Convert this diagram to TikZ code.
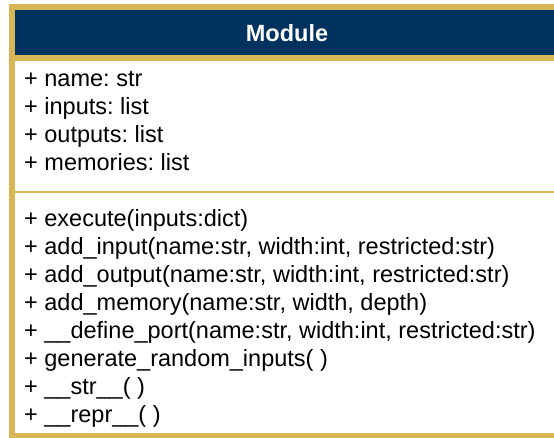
\documentclass[tikz,border=0pt]{standalone}
\usepackage{fontspec}
\setmainfont[Ligatures=NoCommon]{Liberation Sans}
\frenchspacing
\definecolor{navy}{HTML}{003260}
\definecolor{gold}{HTML}{D8B655}
\begin{document}
\begin{tikzpicture}[x=1pt,y=-1pt,
  member/.style={anchor=base west, inner sep=0pt, font=\fontsize{23.5}{23.5}\selectfont\frenchspacing, text=black},
  title/.style={inner sep=0pt, font=\fontsize{23.5}{23.5}\selectfont\bfseries, text=white}]
\useasboundingbox (0,0) rectangle (554,437);
\clip (0,0) rectangle (554,437);
% class frame and header
\fill[white] (12,7) rectangle (562,436);
\fill[navy] (12,7) rectangle (562,58);
\draw[gold, line width=6pt] (12,58) -- (562,58);
\draw[gold, line width=2pt] (15,192) -- (562,192);
\draw[gold, line width=6pt] (12,7) rectangle (562,436);
\node[title] (cls) at (287,33) {Module};
% attributes
\node[member] (a1) at (24,86) {+ name: str};
\node[member] (a2) at (24,114) {+ inputs: list};
\node[member] (a3) at (24,142) {+ outputs: list};
\node[member] (a4) at (24,170) {+ memories: list};
% operations
\node[member] (m1) at (24,226) {+ execute(inputs:dict)};
\node[member] (m2) at (24,254) {+ add\_input(name:str, width:int, restricted:str)};
\node[member] (m3) at (24,282) {+ add\_output(name:str, width:int, restricted:str)};
\node[member] (m4) at (24,310) {+ add\_memory(name:str, width, depth)};
\node[member] (m5) at (24,338) {+ \_\_define\_port(name:str, width:int, restricted:str)};
\node[member] (m6) at (24,366) {+ generate\_random\_inputs( )};
\node[member] (m7) at (24,394) {+ \_\_str\_\_( )};
\node[member] (m8) at (24,422) {+ \_\_repr\_\_( )};
\end{tikzpicture}
\end{document}
